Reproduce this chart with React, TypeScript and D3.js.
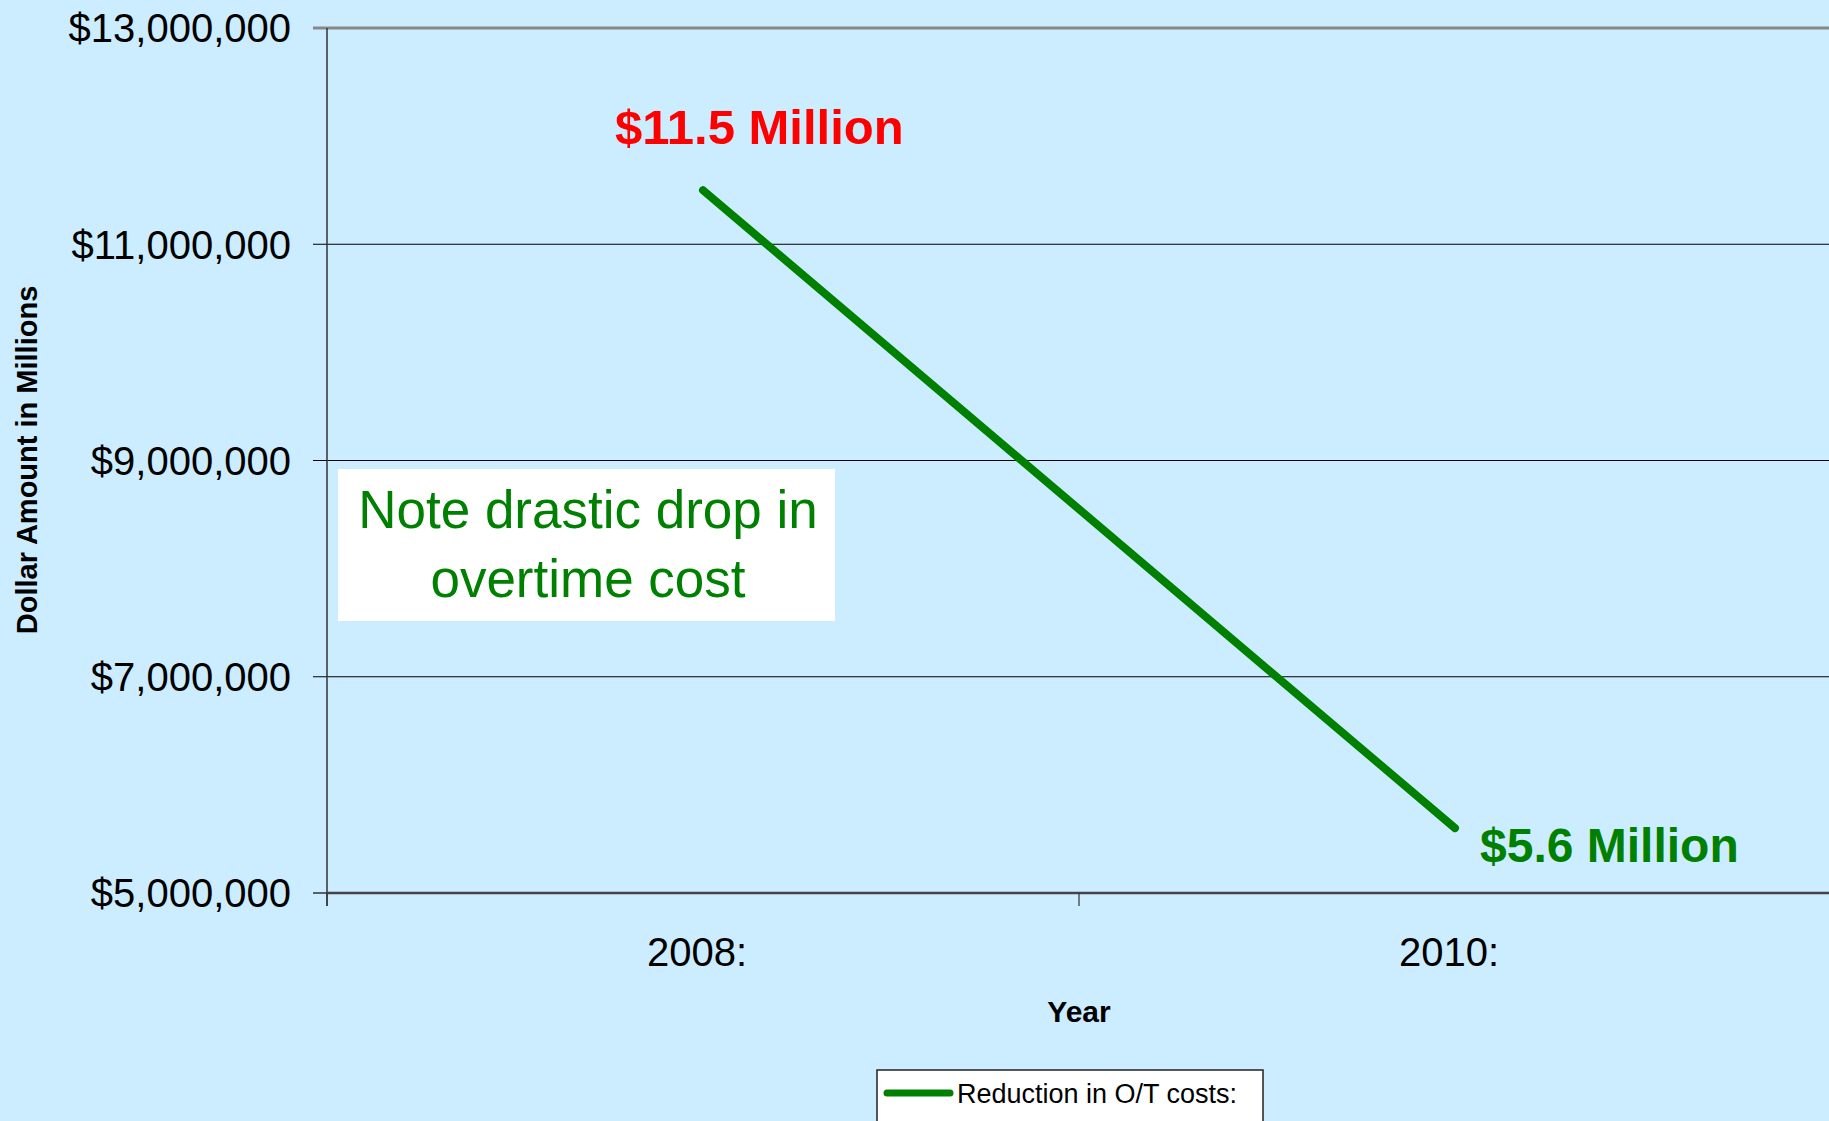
import React from "react";
import * as d3 from "d3";

const categories = ["2008:", "2010:"];
const values = [11500000, 5600000];
const yTicks = [5000000, 7000000, 9000000, 11000000, 13000000];
const seriesName = "Reduction in O/T costs:";
const pointLabels = ["$11.5 Million", "$5.6 Million"];
const noteLines = ["Note drastic drop in", "overtime cost"];

const W = 1829;
const H = 1121;
const FONT = "Arial, 'Liberation Sans', Helvetica, sans-serif";

export default function App() {
  const left = 327;
  const bandW = 752;
  const x = d3.scaleBand<string>().domain(categories).range([left, left + bandW * 2]).padding(0);
  const y = d3.scaleLinear().domain([5000000, 13000000]).range([893, 28]);
  const fmt = (v: number) => "$" + d3.format(",")(v);
  const line = d3
    .line<number>()
    .x((_, i) => (x(categories[i]) as number) + x.bandwidth() / 2)
    .y((d) => y(d));
  const px = (i: number) => (x(categories[i]) as number) + x.bandwidth() / 2;

  return (
    <svg
      width={W}
      height={H}
      style={{ position: "absolute", left: 0, top: 0, background: "#CCECFF" }}
      fontFamily={FONT}
    >
      <rect x={0} y={0} width={W} height={H} fill="#CCECFF" />
      {/* gridlines and y ticks */}
      {yTicks.map((t) => (
        <g key={t}>
          {t !== 5000000 && t !== 13000000 && (
            <line x1={313} x2={W} y1={y(t)} y2={y(t)} stroke="#000" strokeWidth={1.2} />
          )}
          {t === 5000000 && <line x1={313} x2={left} y1={y(t)} y2={y(t)} stroke="#333" strokeWidth={1.5} />}
          <text x={291} y={y(t)} dy="0.36em" textAnchor="end" fontSize={40} fill="#000">
            {fmt(t)}
          </text>
        </g>
      ))}
      {/* top gridline (gray) */}
      <line x1={313} x2={W} y1={y(13000000)} y2={y(13000000)} stroke="#888" strokeWidth={3} />
      {/* y axis */}
      <line x1={left} x2={left} y1={y(13000000)} y2={906} stroke="#333" strokeWidth={1.5} />
      {/* x axis */}
      <line x1={left} x2={W} y1={y(5000000)} y2={y(5000000)} stroke="#444" strokeWidth={2.5} />
      {[0, 1, 2].map((i) => (
        <line key={i} x1={left + bandW * i} x2={left + bandW * i} y1={893} y2={906} stroke="#333" strokeWidth={1.2} />
      ))}
      {categories.map((c, i) => (
        <text key={c} x={px(i) - 6} y={966} textAnchor="middle" fontSize={40} fill="#000">
          {c}
        </text>
      ))}
      <text x={1079} y={1022} textAnchor="middle" fontSize={30} fontWeight="bold" fill="#000">
        Year
      </text>
      <text
        transform={`translate(37,460) rotate(-90)`}
        textAnchor="middle"
        fontSize={29}
        fontWeight="bold"
        fill="#000"
      >
        Dollar Amount in Millions
      </text>
      {/* note box */}
      <rect x={338} y={469} width={497} height={152} fill="#fff" />
      {noteLines.map((l, i) => (
        <text key={l} x={588} y={528 + i * 69} textAnchor="middle" fontSize={53} fill="#008000">
          {l}
        </text>
      ))}
      {/* series line */}
      <path d={line(values) || ""} fill="none" stroke="#008000" strokeWidth={8} strokeLinecap="round" />
      <text x={px(0) - 88} y={144} fontSize={49} fontWeight="bold" fill="#FF0000">
        {pointLabels[0]}
      </text>
      <text x={px(1) + 25} y={862} fontSize={48} fontWeight="bold" fill="#008000">
        {pointLabels[1]}
      </text>
      {/* legend */}
      <rect x={877} y={1070} width={386} height={80} fill="#fff" stroke="#222" strokeWidth={1.5} />
      <line x1={887} x2={950} y1={1093} y2={1093} stroke="#008000" strokeWidth={7} strokeLinecap="round" />
      <text x={957} y={1103} fontSize={27} fill="#000">
        {seriesName}
      </text>
    </svg>
  );
}
